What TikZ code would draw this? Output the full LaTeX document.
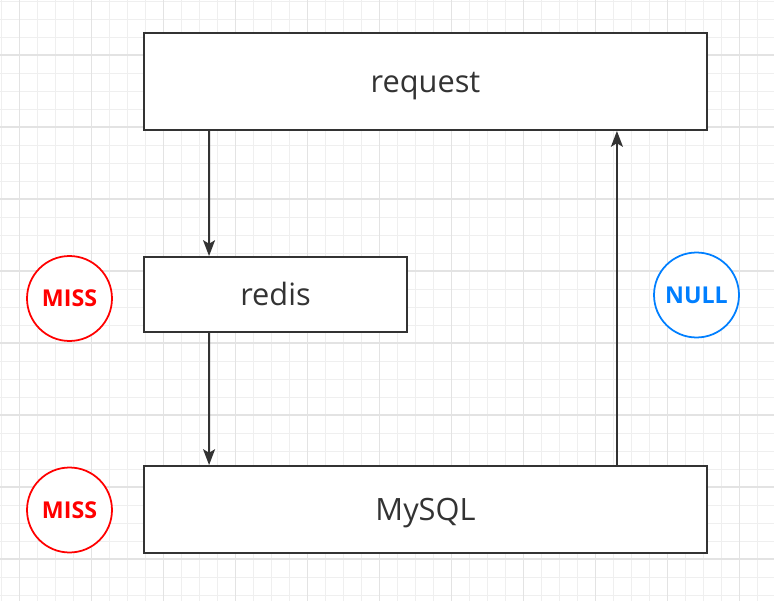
\documentclass[tikz,border=0pt]{standalone}
\usepackage{fontspec}
\setmainfont{Open Sans}
\usetikzlibrary{arrows.meta}

\definecolor{gridminor}{HTML}{EFEFEF}
\definecolor{gridmajor}{HTML}{E3E3E3}
\definecolor{boxline}{HTML}{333333}
\definecolor{missred}{HTML}{FF0000}
\definecolor{nullblue}{HTML}{007FFF}

\tikzset{
    box/.style={draw=boxline, line width=1.1pt, fill=white, text=boxline,
        font=\fontsize{17.5}{21}\selectfont, inner sep=0pt,
        text height=13pt, text depth=0pt},
    tag/.style={circle, draw=#1, line width=1pt, fill=white, text=#1,
        minimum size=1.7cm, inner sep=0pt, font=\fontsize{13.2}{16}\bfseries},
    flow/.style={draw=boxline, line width=1.1pt, -{Stealth[length=9pt,width=6.8pt,inset=2pt]}}
}

\begin{document}
\begin{tikzpicture}[x=0.02cm, y=-0.02cm]
    \useasboundingbox (0,0) rectangle (774,601);

    % Background grid
    \foreach \gx in {0,...,42} {
        \draw[gridminor, line width=0.5pt] ({1.3+18*\gx},0) -- ({1.3+18*\gx},601);
    }
    \foreach \gy in {0,...,33} {
        \draw[gridminor, line width=0.5pt] (0,{1+18*\gy}) -- (774,{1+18*\gy});
    }
    \foreach \gx in {0,...,10} {
        \draw[gridmajor, line width=0.6pt] ({19.3+72*\gx},0) -- ({19.3+72*\gx},601);
    }
    \foreach \gy in {0,...,7} {
        \draw[gridmajor, line width=0.6pt] (0,{55+72*\gy}) -- (774,{55+72*\gy});
    }

    % Boxes
    \node[box, minimum width=11.26cm, minimum height=1.94cm] (request) at (425.5,81.5) {request};
    \node[box, minimum width=5.26cm, minimum height=1.5cm] (redis) at (275.5,294.5) {redis};
    \node[box, minimum width=11.26cm, minimum height=1.74cm] (mysql) at (425.5,509.5) {MySQL};

    % Status tags
    \node[tag=missred] (miss1) at (69.5,298.5) {MISS};
    \node[tag=missred] (miss2) at (69.5,510) {MISS};
    \node[tag=nullblue] (null) at (696.5,295) {NULL};

    % Lookup path and the way back
    \draw[flow] ([xshift=1.32cm]request.south west) -- ([xshift=1.32cm]redis.north west);
    \draw[flow] ([xshift=1.32cm]redis.south west) -- ([xshift=1.32cm]mysql.north west);
    \draw[flow] ([xshift=-1.82cm]mysql.north east) -- ([xshift=-1.82cm]request.south east);
\end{tikzpicture}
\end{document}
